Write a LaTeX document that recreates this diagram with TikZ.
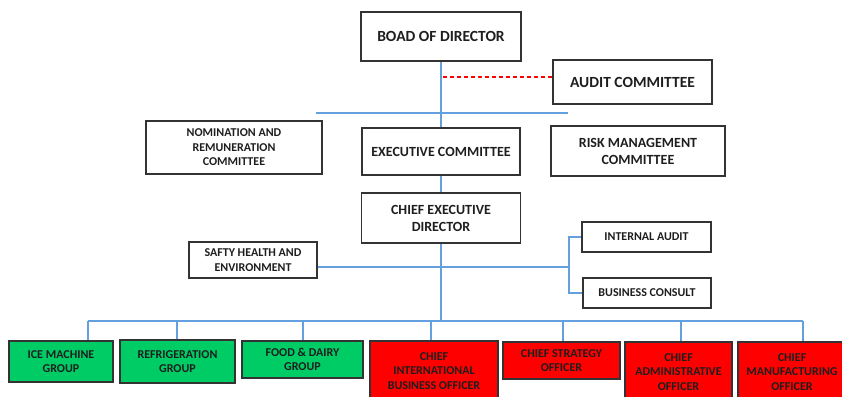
\documentclass[tikz,border=0pt]{standalone}
\usepackage{fontspec}
\setmainfont{Carlito}
\definecolor{linkblue}{RGB}{100,160,222}
\definecolor{boxgreen}{RGB}{0,204,102}
\definecolor{boxred}{RGB}{255,0,0}
\definecolor{textdark}{RGB}{30,30,30}
\tikzset{
    box/.style={draw=black!80, line width=1.2pt, align=center, inner sep=2pt,
        text=textdark, font=\fontsize{12}{14.6}\selectfont\bfseries},
    bigbox/.style={box, font=\fontsize{14}{17}\selectfont\bfseries},
    topbox/.style={box, font=\fontsize{15.5}{18}\selectfont\bfseries},
    groupbox/.style={box, fill=boxgreen},
    officerbox/.style={box, fill=boxred},
    link/.style={draw=linkblue, line width=1.4pt},
    auditlink/.style={draw=boxred, line width=1.4pt, dash pattern=on 4pt off 3pt}
}
\begin{document}
\begin{tikzpicture}[x=1pt,y=-1pt]
            \useasboundingbox (0,0) rectangle (842,396);
            \clip (0,0) rectangle (842,396);
            \node[topbox, minimum width=160, minimum height=49] (boad) at (441,36.5) {BOAD OF DIRECTOR};
            \node[topbox, minimum width=159, minimum height=44] (audit) at (632.5,82) {AUDIT COMMITTEE};
            \node[box, minimum width=176, minimum height=53] (nom) at (234,147.5) {NOMINATION AND\\REMUNERATION\\COMMITTEE};
            \node[bigbox, minimum width=158, minimum height=47] (exec) at (441,151.5) {EXECUTIVE COMMITTEE};
            \node[bigbox, minimum width=174, minimum height=50] (risk) at (638,151) {RISK MANAGEMENT\\COMMITTEE};
            \node[bigbox, minimum width=159, minimum height=50] (ceo) at (441,218) {CHIEF EXECUTIVE\\DIRECTOR};
            \node[box, minimum width=128, minimum height=36] (safety) at (253,260) {SAFTY HEALTH AND\\ENVIRONMENT};
            \node[box, minimum width=129, minimum height=30] (ia) at (646.5,237) {INTERNAL AUDIT};
            \node[box, minimum width=128, minimum height=30] (bc) at (647,293) {BUSINESS CONSULT};
            \node[groupbox, minimum width=104, minimum height=41] (ice) at (61,361.5) {ICE MACHINE\\GROUP};
            \node[groupbox, minimum width=115, minimum height=43] (ref) at (177.5,361.5) {REFRIGERATION\\GROUP};
            \node[groupbox, minimum width=121, minimum height=37] (food) at (302.5,359.5) {FOOD \& DAIRY\\GROUP};
            \node[officerbox, minimum width=128, minimum height=60] (intl) at (434,371) {CHIEF\\INTERNATIONAL\\BUSINESS OFFICER};
            \node[officerbox, minimum width=117, minimum height=37] (strat) at (561.5,360.5) {CHIEF STRATEGY\\OFFICER};
            \node[officerbox, minimum width=107, minimum height=60] (admin) at (678.5,372) {CHIEF\\ADMINISTRATIVE\\OFFICER};
            \node[officerbox, minimum width=108, minimum height=60] (manu) at (792,372) {CHIEF\\MANUFACTURING\\OFFICER};
            \coordinate (sl) at (316,113);
            \coordinate (sr) at (568,113);
            \coordinate (adot) at (443,77);
            \coordinate (brk) at (569,267);
            \coordinate (bus) at (441,321);
            \coordinate (busl) at (88,321);
            \coordinate (busr) at (803,321);
            \draw[link] (boad) -- (exec);
            \draw[link] (sl) -- (sr);
            \draw[auditlink] (adot) -- (adot -| audit.west);
            \draw[link] (exec) -- (ceo);
            \draw[link] (ceo) -- (bus);
            \draw[link] (safety.east |- brk) -- (brk);
            \draw[link] (ia.west) -| (brk) |- (bc.west);
            \draw[link] (busl) -- (busr);
            \foreach \n/\x in {ice/88,ref/177,food/303,intl/431,strat/563,admin/681,manu/803} {
                \draw[link] (\x,321) -- (\x,321 |- \n.north);
            }
        \end{tikzpicture}
\end{document}
